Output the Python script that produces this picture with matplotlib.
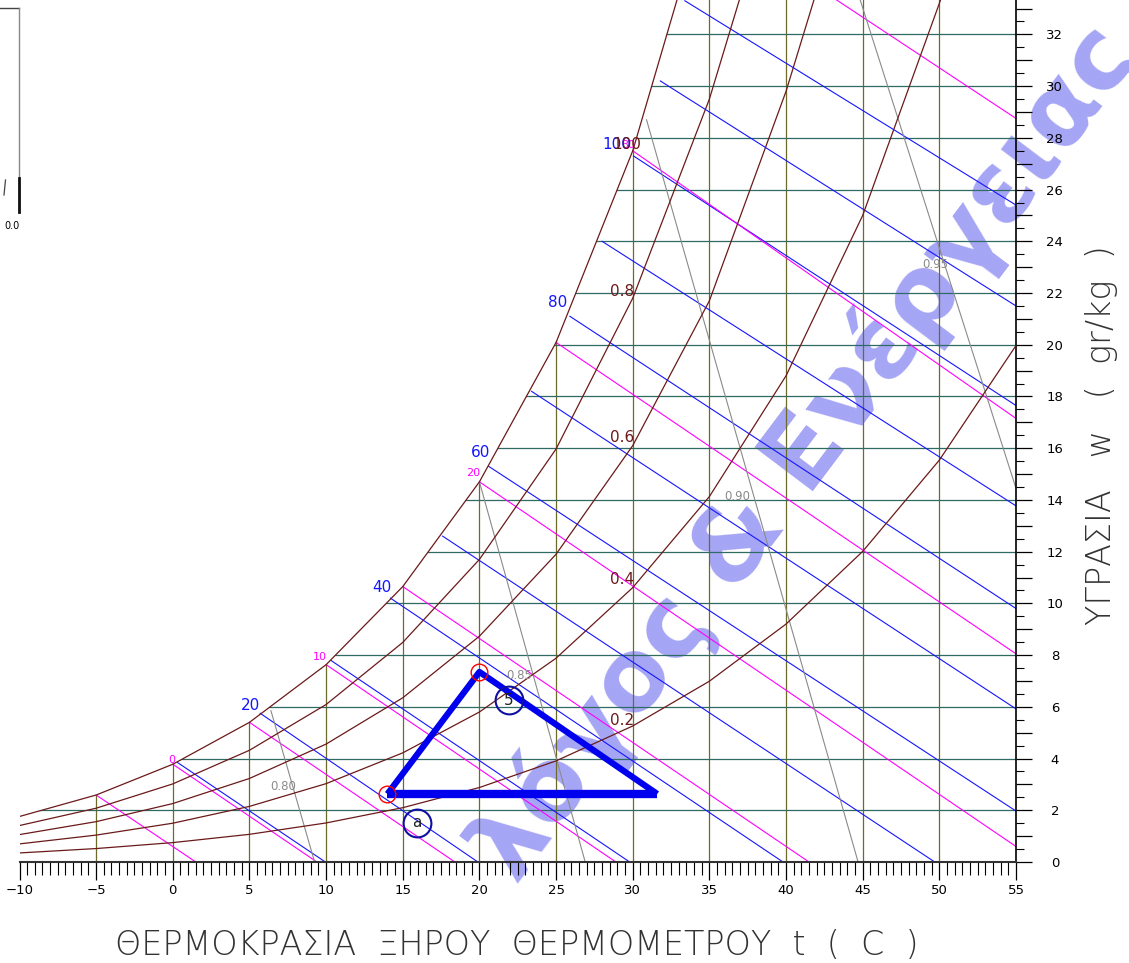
import matplotlib
matplotlib.use("Agg")
import matplotlib.pyplot as plt
from matplotlib.lines import Line2D
from matplotlib.patches import Polygon
from matplotlib.ticker import MultipleLocator

# dry bulb temperatures of the curve vertices (C)
temps = [-10, -5, 0, 5, 10, 15, 20, 25, 30, 35, 40, 45, 50, 55]

# humidity ratio (g/kg) on the constant relative humidity curves
rh100_w = [1.76, 2.59, 3.78, 5.40, 7.63, 10.65, 14.70, 20.09, 27.5, 37.6]
rh80_w = [1.41, 2.08, 3.02, 4.32, 6.09, 8.49, 11.70, 15.97, 21.8, 29.5, 39.3]
rh60_w = [1.06, 1.56, 2.26, 3.23, 4.56, 6.35, 8.73, 11.90, 16.1, 21.7, 29.8, 39.5]
rh40_w = [0.70, 1.04, 1.50, 2.15, 3.03, 4.22, 5.80, 7.88, 10.61, 14.13, 18.8, 25.0, 33.2, 42.0]
rh20_w = [0.35, 0.52, 0.75, 1.07, 1.51, 2.10, 2.88, 3.91, 5.26, 6.99, 9.20, 12.01, 15.54, 19.97]
rh_labels = ["0.2", "0.4", "0.6", "0.8"]

# constant enthalpy lines (kJ/kg): start on saturation, end on chart edge
enth_h = [10, 20, 30, 40, 50, 60, 70, 80, 90, 100, 110, 120]
enth_t0 = [0.3, 5.7, 10.3, 14.2, 17.6, 20.6, 23.4, 25.9, 28.0, 30.05, 31.8, 33.4]
enth_w0 = [3.85, 5.75, 7.8, 10.2, 12.6, 15.3, 18.2, 21.1, 24.0, 27.3, 30.2, 33.3]
enth_t1 = [9.95, 19.9, 29.8, 39.8, 49.7, 55, 55, 55, 55, 55, 55, 55]
enth_w1 = [0, 0, 0, 0, 0, 1.97, 5.92, 9.8, 13.77, 17.65, 21.5, 25.4]

# wet bulb lines (C)
wb_t = [-5, 0, 5, 10, 15, 20, 25, 30, 35]
wb_w0 = [2.59, 3.78, 5.40, 7.63, 10.65, 14.70, 20.09, 27.5, 36.58]
wb_t1 = [1.5, 9.4, 18.4, 28.9, 41.5, 55, 55, 55, 55]
wb_w1 = [0, 0, 0, 0, 0, 0.6, 8.05, 17.15, 28.75]

# specific volume lines (m3/kg)
vol_labels = ["0.80", "0.85", "0.90", "0.95"]
vol_t0 = [6.4, 20.0, 30.9, 42.0]
vol_w0 = [5.85, 14.7, 28.7, 38.6]
vol_t1 = [9.25, 26.9, 44.7, 55.0]
vol_w1 = [0, 0, 0, 14.45]

# process drawn on the chart
proc_t = [14.0, 20.0, 31.6]
proc_w = [2.63, 7.35, 2.63]
state_t = [21.9, 15.9]
state_w = [6.26, 1.51]
state_names = ["5", "a"]

MAROON = "#6b1a1a"
OLIVE = "#6e6a2a"
TEAL = "#2f6b62"
BLUE = "#1515ff"
MAGENTA = "#ff00ff"
GREY = "#8a8a8a"

W, H = 1129, 963
fig = plt.figure(figsize=(W / 100, H / 100), dpi=100)
ax = fig.add_axes([19.5 / W, 1 - 862 / H, (1016 - 19.5) / W, 862 / H])
ax.set_xlim(-10, 55)
ax.set_ylim(0, 33.33)

# watermark sits under every line of the chart
ax.text(805 / W, 1 - 452 / H, "λόγος & Ενέργειας", transform=fig.transFigure,
        rotation=53, rotation_mode="anchor", fontsize=72, fontweight="bold",
        color="#a5a5f5", ha="center", va="center", zorder=0.5, clip_on=False)

# region under the saturation curve, used to trim the grid
sat_poly = list(zip(temps[:len(rh100_w)], rh100_w)) + [(55, 40), (55, 0), (-10, 0)]
clip = Polygon(sat_poly, closed=True, facecolor="none", edgecolor="none")
ax.add_patch(clip)

for t in range(-5, 55, 5):
    ln, = ax.plot([t, t], [0, 40], color=OLIVE, lw=0.9, zorder=1)
    ln.set_clip_path(clip)
for w in range(2, 34, 2):
    ln, = ax.plot([-10, 55], [w, w], color=TEAL, lw=0.9, zorder=1)
    ln.set_clip_path(clip)

for wlist in [rh100_w, rh80_w, rh60_w, rh40_w, rh20_w]:
    ax.plot(temps[:len(wlist)], wlist, color=MAROON, lw=0.9, zorder=3)

for i in range(len(enth_h)):
    ax.plot([enth_t0[i], enth_t1[i]], [enth_w0[i], enth_w1[i]],
            color=BLUE, lw=0.8, zorder=2)
for i in range(len(wb_t)):
    ax.plot([wb_t[i], wb_t1[i]], [wb_w0[i], wb_w1[i]],
            color=MAGENTA, lw=0.8, zorder=2)
for i in range(len(vol_labels)):
    ax.plot([vol_t0[i], vol_t1[i]], [vol_w0[i], vol_w1[i]],
            color=GREY, lw=0.8, zorder=2)

# line labels
for s, (x, y) in zip(["20", "40", "60", "80", "100"],
                     [(5.04, 6.07), (13.65, 10.6), (20.1, 15.85), (25.13, 21.65), (28.98, 27.73)]):
    ax.text(x, y, s, color=BLUE, fontsize=11, ha="center", va="center", zorder=4)
for s, (x, y) in zip(["0", "10", "20", "30"],
                     [(-0.05, 3.94), (9.6, 7.93), (19.58, 15.04), (29.69, 27.73)]):
    ax.text(x, y, s, color=MAGENTA, fontsize=8, ha="center", va="center", zorder=4)
for s, y in zip(rh_labels, [5.49, 10.94, 16.43, 22.04]):
    ax.text(29.3, y, s, color=MAROON, fontsize=11, ha="center", va="center", zorder=4)
ax.text(29.6, 27.73, "100", color=MAROON, fontsize=11, ha="center", va="center", zorder=4)
for s, (x, y) in zip(vol_labels, [(7.19, 2.9), (22.58, 7.23), (36.8, 14.15), (49.72, 23.09)]):
    ax.text(x, y, s, color=GREY, fontsize=8.5, ha="center", va="center", zorder=4)

# process triangle
ax.plot(proc_t, proc_w, color="#0000ee", lw=4.5, solid_capstyle="butt", zorder=6)
ax.plot([proc_t[0], proc_t[2]], [proc_w[0], proc_w[2]], color="#0000ee",
        lw=6, solid_capstyle="butt", zorder=6)
ax.plot(proc_t[:2], proc_w[:2], "o", ms=12, mfc="none", mec="red", mew=1, zorder=7)
ax.plot(state_t, state_w, "o", ms=20, mfc="none", mec="#1010a0", mew=1.5, zorder=7)
for x, y, s in zip(state_t, state_w, state_names):
    ax.text(x, y, s, fontsize=11, color="#222222", ha="center", va="center", zorder=7)

# axes
for side in ["left", "top"]:
    ax.spines[side].set_visible(False)
ax.spines["bottom"].set_linewidth(1.5)
ax.spines["bottom"].set_color("#333333")
ax.spines["right"].set_linewidth(1.2)
ax.xaxis.set_major_locator(MultipleLocator(5))
ax.xaxis.set_minor_locator(MultipleLocator(0.5))
ax.yaxis.tick_right()
ax.yaxis.set_minor_locator(MultipleLocator(0.5))
ax.tick_params(axis="x", which="major", length=13, width=0.9, pad=3, labelsize=9.5)
ax.tick_params(axis="x", which="minor", length=9, width=0.8)
ax.tick_params(axis="y", which="major", length=11.5, width=0.9, pad=16.5, labelsize=9.5,
               left=False, right=True)
ax.tick_params(axis="y", which="minor", length=6, width=0.8, left=False, right=True)
ax.set_yticks(range(0, 34))
ax.set_yticklabels(["%d" % v if v % 2 == 0 else "" for v in range(0, 34)])
plt.setp(ax.get_yticklabels(), ha="center")

fig.text(517 / W, 1 - 945 / H, "ΘΕΡΜΟΚΡΑΣΙΑ  ΞΗΡΟΥ  ΘΕΡΜΟΜΕΤΡΟΥ  t  (  C  )",
         fontsize=24, fontweight="light", color="#333333", ha="center", va="center")
fig.text(1101 / W, 1 - 435 / H, "ΥΓΡΑΣΙΑ   w   (  gr/kg  )", rotation=90,
         fontsize=24, fontweight="light", color="#333333", ha="center", va="center")

# small scale stub in the corner
def px_line(xs, ys, **kw):
    fig.add_artist(Line2D([x / W for x in xs], [1 - y / H for y in ys],
                          transform=fig.transFigure, **kw))

px_line([0, 19], [8, 8], color="#444444", lw=1)
px_line([19, 19], [8, 212], color="#888888", lw=1)
px_line([19, 19], [178, 212], color="#111111", lw=2)
px_line([4, 5.5], [195, 180], color="#444444", lw=0.9)
fig.text(12 / W, 1 - 226 / H, "0.0", fontsize=7, ha="center", va="center")

fig.savefig("out.png", dpi=100)
